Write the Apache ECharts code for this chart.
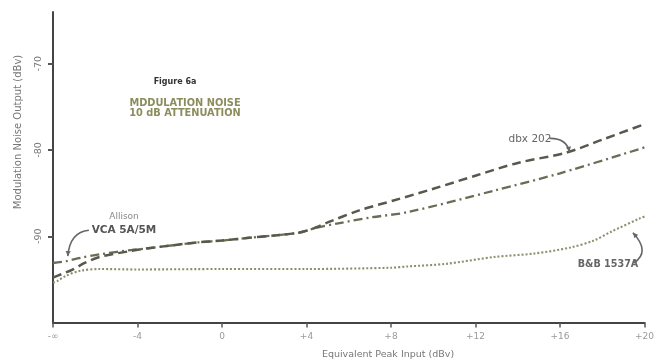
<!DOCTYPE html>
<html><head><meta charset="utf-8">
<script src="https://cdn.jsdelivr.net/npm/echarts@6/dist/echarts.min.js"></script>
<style>html,body{margin:0;padding:0;background:#fff}#c{width:657px;height:360px}</style>
</head><body><div id="c"></div>
<script>
// ---- data ----
const xTickValues = [-8, -4, 0, 4, 8, 12, 16, 20];
const xTickLabels = ['-\u221e', '-4', '0', '+4', '+8', '+12', '+16', '+20'];
const yTickValues = [-90, -80, -70];

const dbxX = [-8, -7.6, -7.1, -6.5, -5.8, -4.3, -3.5, -1.1, 0, 1.2, 2.5, 3.6, 4.2, 5.0, 6.5, 8.2, 10, 12.1, 14, 16.3, 18, 20];
const dbxY = [-94.8, -94.4, -93.9, -93.1, -92.4, -91.7, -91.4, -90.7, -90.5, -90.2, -89.9, -89.6, -89.2, -88.4, -87.0, -85.8, -84.5, -82.9, -81.5, -80.3, -78.8, -77.0];

const allisonX = [-8, -7.4, -6.7, -5.8, -4.3, -3.5, -1.1, 0, 1.2, 2.5, 3.6, 4.5, 5.5, 7.1, 8.8, 12.9, 16.0, 20];
const allisonY = [-93.1, -92.9, -92.5, -92.1, -91.6, -91.4, -90.7, -90.5, -90.2, -89.9, -89.6, -89.0, -88.5, -87.8, -87.2, -84.7, -82.7, -79.7];

const bbX = [-8, -7.8, -7.4, -6.7, -5.8, -4, 0, 4, 8, 8.8, 10.6, 12.9, 14.8, 16.5, 17.6, 18.4, 19.8, 20];
const bbY = [-95.4, -95.2, -94.6, -94.0, -93.8, -93.85, -93.8, -93.8, -93.65, -93.5, -93.2, -92.4, -92.0, -91.3, -90.5, -89.5, -87.9, -87.7];

function pairs(xs, ys) { return xs.map((x, i) => [x, ys[i]]); }

const chart = echarts.init(document.getElementById('c'));
const FONT = 'DejaVu Sans';

chart.setOption({
  animation: false,
  backgroundColor: '#fff',
  grid: { left: 53, right: 5, top: 12, bottom: 37.5 },
  xAxis: {
    type: 'value', min: -8, max: 20, interval: 4,
    axisLine: { show: true, onZero: false, lineStyle: { color: '#444', width: 2 } },
    axisTick: { show: true, length: 5, lineStyle: { color: '#555', width: 1.5 } },
    axisLabel: {
      color: '#999', fontSize: 9, fontFamily: FONT, margin: 10,
      formatter: v => { const i = xTickValues.indexOf(v); return i >= 0 ? xTickLabels[i] : ''; }
    },
    splitLine: { show: false }
  },
  yAxis: {
    type: 'value', min: -100, max: -64, interval: 10,
    axisLine: { show: true, onZero: false, lineStyle: { color: '#444', width: 2 } },
    axisTick: { show: true, length: 5, customValues: yTickValues, lineStyle: { color: '#555', width: 2 } },
    axisLabel: {
      color: '#777', fontSize: 9.5, fontFamily: FONT, rotate: 90, margin: 9,
      customValues: yTickValues,
      formatter: v => String(v)
    },
    splitLine: { show: false }
  },
  series: [
    {
      name: 'dbx 202', type: 'line', smooth: 0.3, showSymbol: false,
      data: pairs(dbxX, dbxY),
      lineStyle: { color: '#58584c', width: 2.5, type: [9, 5] }, z: 3
    },
    {
      name: 'Allison VCA 5A/5M', type: 'line', smooth: 0.3, showSymbol: false,
      data: pairs(allisonX, allisonY),
      lineStyle: { color: '#6c6c56', width: 2.3, type: [9, 4, 2, 4] }, z: 2
    },
    {
      name: 'B&B 1537A', type: 'line', smooth: 0.3, showSymbol: false,
      data: pairs(bbX, bbY),
      lineStyle: { color: '#8e8e70', width: 2.1, type: [2, 2] }, z: 1
    }
  ]
});

// ---- annotations (anchored in data coordinates) ----
function px(x, y) { return chart.convertToPixel({ gridIndex: 0 }, [x, y]); }
function arrow(p0, c, p1) {
  const a = px(p0[0], p0[1]), b = px(c[0], c[1]), e = px(p1[0], p1[1]);
  const dx = e[0] - b[0], dy = e[1] - b[1];
  const L = Math.hypot(dx, dy) || 1, ux = dx / L, uy = dy / L;
  const s = 5, w = 2.6;
  const tip = e, base = [e[0] - ux * s, e[1] - uy * s];
  return [
    { type: 'bezierCurve', shape: { x1: a[0], y1: a[1], x2: e[0], y2: e[1], cpx1: b[0], cpy1: b[1] },
      style: { stroke: '#666', lineWidth: 1.6, fill: null }, z: 10 },
    { type: 'polygon', shape: { points: [tip, [base[0] - uy * w, base[1] + ux * w], [base[0] + uy * w, base[1] - ux * w]] },
      style: { fill: '#666' }, z: 10 }
  ];
}
const txt = (x, y, text, size, color, weight, align) => ({
  type: 'text', x, y, z: 10,
  style: { text, fontSize: size, fontFamily: FONT, fill: color, fontWeight: weight || 'normal', align: align || 'center', verticalAlign: 'middle' }
});

const g = [];
g.push(txt(175, 82, 'Figure 6a', 8, '#333', 'bold'));
g.push(txt(185, 103, 'MDDULATION NOISE', 9.8, '#8c8c5c', 'bold'));
g.push(txt(185, 113, '10 dB ATTENUATION', 9.8, '#8c8c5c', 'bold'));
g.push(txt(124, 217, 'Allison', 9, '#888', 'normal'));
g.push(txt(124, 230, 'VCA 5A/5M', 10.5, '#555', 'bold'));
g.push(txt(530, 139, 'dbx 202', 10.5, '#666', 'normal'));
g.push(txt(608, 264, 'B&B 1537A', 9.6, '#666', 'bold'));
g.push(txt(388, 355, 'Equivalent Peak Input (dBv)', 9.5, '#777', 'normal'));
g.push({ type: 'text', x: 18, y: 132, rotation: Math.PI / 2, z: 10,
  style: { text: 'Modulation Noise Output (dBv)', fontSize: 10, fontFamily: FONT, fill: '#777', align: 'center', verticalAlign: 'middle' } });

g.push(...arrow([-6.3, -89.3], [-7.2, -89.5], [-7.3, -92.3]));
g.push(...arrow([15.5, -78.65], [16.3, -78.6], [16.45, -80.2]));
g.push(...arrow([19.5, -93.1], [20.3, -91.8], [19.45, -89.6]));

chart.setOption({ graphic: g });
</script>
</body></html>
